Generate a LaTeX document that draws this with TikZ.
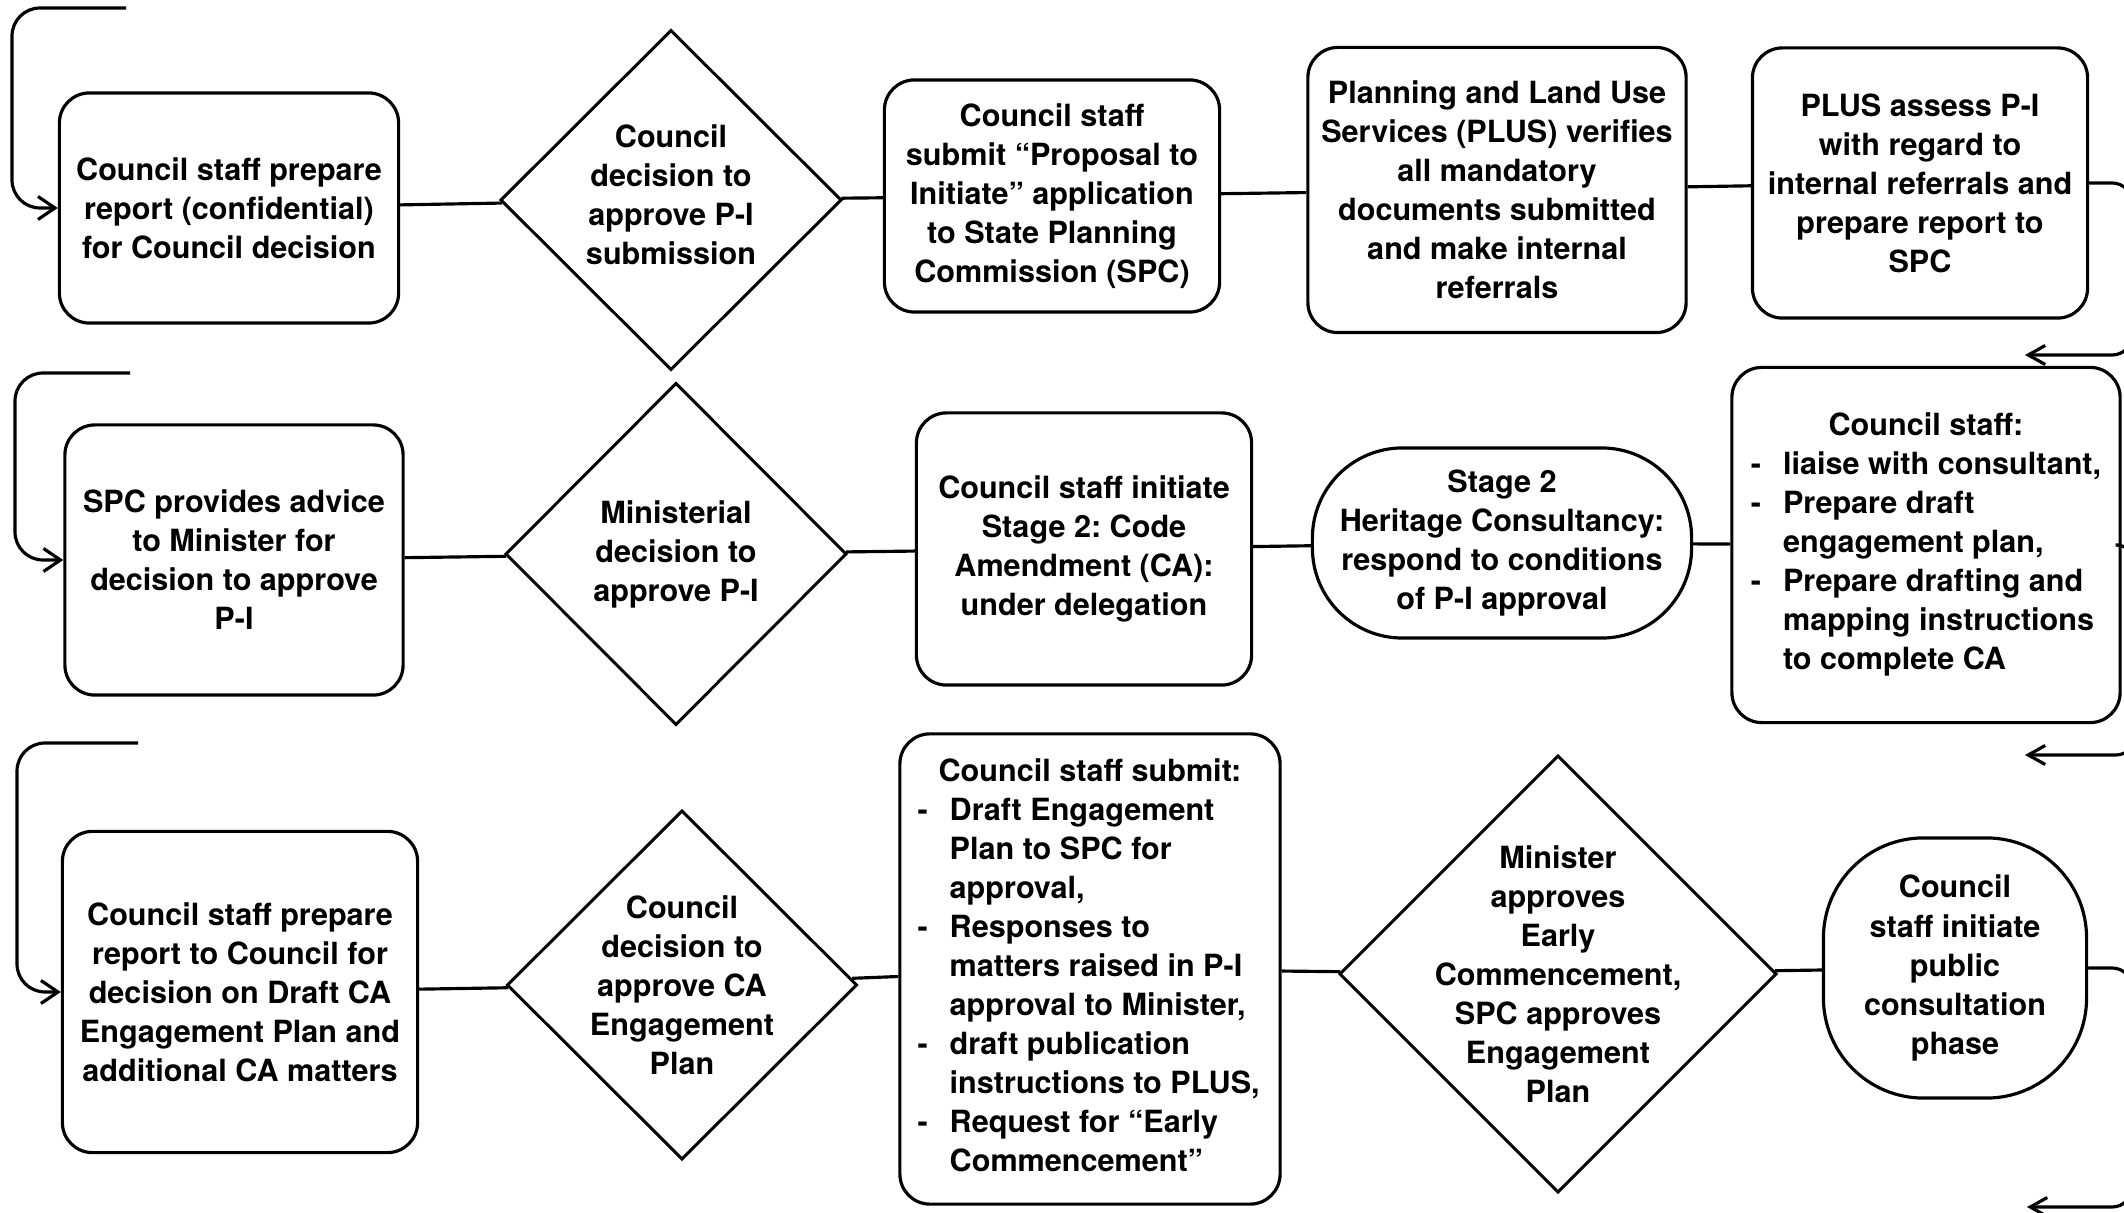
\documentclass[tikz,border=0pt]{standalone}
\usepackage{fontspec}
\setmainfont{TeX Gyre Heros}
\usetikzlibrary{shapes.geometric,arrows.meta}
\frenchspacing

\begin{document}
\begin{tikzpicture}[x=0.01cm,y=-0.01cm,
  every node/.style={font=\bfseries\fontsize{8.7pt}{11.1pt}\selectfont, align=center, inner sep=0pt},
  stepbox/.style={draw, line width=0.9pt, rectangle, rounded corners=0.3cm},
  pill/.style={draw, line width=0.9pt, rectangle, rounded corners=0.9cm},
  roundbox/.style={draw, line width=0.9pt, rectangle, rounded corners=1.0cm},
  decision/.style={draw, line width=0.85pt, diamond, inner sep=0pt},
  link/.style={line width=0.9pt},
  loopin/.style={line width=0.9pt, rounded corners=0.28cm, -{Straight Barb[length=1.7mm,width=2.3mm]}},
  loopout/.style={line width=0.9pt, rounded corners=0.2cm, -{Straight Barb[length=1.7mm,width=1.9mm]}},
]
% page
\fill[white] (0,0) rectangle (2124,1213);
\clip (0,0) rectangle (2124,1213);

% ---------------- row 1 ----------------
\node[stepbox, minimum width=3.39cm, minimum height=2.30cm] (a1) at (229,208)
  {Council staff prepare\\report (confidential)\\for Council decision};
\node[decision, minimum width=3.41cm, minimum height=3.40cm] (d1) at (671,200) {};
\node (d1t) at (671,195) {Council\\decision to\\approve P-I\\submission};
\node[stepbox, minimum width=3.35cm, minimum height=2.32cm] (b1) at (1052,196)
  {Council staff\\submit “Proposal to\\Initiate” application\\to State Planning\\Commission (SPC)};
\node[stepbox, minimum width=3.78cm, minimum height=2.85cm] (c1) at (1497,190)
  {Planning and Land Use\\Services (PLUS) verifies\\all mandatory\\documents submitted\\and make internal\\referrals};
\node[stepbox, minimum width=3.35cm, minimum height=2.70cm] (e1) at (1920,183)
  {PLUS assess P-I\\with regard to\\internal referrals and\\prepare report to\\SPC};

% ---------------- row 2 ----------------
\node[stepbox, minimum width=3.38cm, minimum height=2.70cm] (a2) at (234,560)
  {SPC provides advice\\to Minister for\\decision to approve\\P-I};
\node[decision, minimum width=3.41cm, minimum height=3.42cm] (d2) at (676,554) {};
\node (d2t) at (676,554) {Ministerial\\decision to\\approve P-I};
\node[stepbox, minimum width=3.35cm, minimum height=2.72cm] (b2) at (1084,549)
  {Council staff initiate\\Stage 2: Code\\Amendment (CA):\\under delegation};
\node[pill, minimum width=3.79cm, minimum height=1.90cm] (c2) at (1502,543)
  {Stage 2\\Heritage Consultancy:\\respond to conditions\\of P-I approval};
\node[stepbox, minimum width=3.88cm, minimum height=3.55cm] (e2) at (1926,545)
  {\begin{tabular}{@{}l@{\hspace{0.22cm}}l@{}}
   \multicolumn{2}{c}{Council staff:}\\
   - & liaise with consultant,\\
   - & Prepare draft\\
     & engagement plan,\\
   - & Prepare drafting and\\
     & mapping instructions\\
     & to complete CA
   \end{tabular}};

% ---------------- row 3 ----------------
\node[stepbox, minimum width=3.55cm, minimum height=3.21cm] (a3) at (240,992)
  {Council staff prepare\\report to Council for\\decision on Draft CA\\Engagement Plan and\\additional CA matters};
\node[decision, minimum width=3.50cm, minimum height=3.49cm] (d3) at (682,985) {};
\node (d3t) at (682,985) {Council\\decision to\\approve CA\\Engagement\\Plan};
\node[stepbox, minimum width=3.80cm, minimum height=4.70cm] (b3) at (1090,969)
  {\begin{tabular}{@{}l@{\hspace{0.22cm}}l@{}}
   \multicolumn{2}{c}{Council staff submit:}\\
   - & Draft Engagement\\
     & Plan to SPC for\\
     & approval,\\
   - & Responses to\\
     & matters raised in P-I\\
     & approval to Minister,\\
   - & draft publication\\
     & instructions to PLUS,\\
   - & Request for “Early\\
     & Commencement”
   \end{tabular}};
\node[decision, minimum width=4.37cm, minimum height=4.37cm] (d4) at (1558,974) {};
\node (d4t) at (1558,974) {Minister\\approves\\Early\\Commencement,\\SPC approves\\Engagement\\Plan};
\node[roundbox, minimum width=2.63cm, minimum height=2.60cm] (c3) at (1955,968)
  {Council\\staff initiate\\public\\consultation\\phase};

% ---------------- connectors within rows ----------------
\draw[link] (a1) -- (d1);
\draw[link] (d1) -- (b1);
\draw[link] (b1) -- (c1);
\draw[link] (c1) -- (e1);

\draw[link] (a2) -- (d2);
\draw[link] (d2) -- (b2);
\draw[link] (b2) -- (c2);
\draw[link] (c2) -- (e2);

\draw[link] (a3) -- (d3);
\draw[link] (d3) -- (b3);
\draw[link] (b3) -- (d4);
\draw[link] (d4) -- (c3);

% ---------------- row entries on the left ----------------
\coordinate (s1) at (126,8);
\coordinate (s2) at (130,373);
\coordinate (s3) at (138,743);
\draw[loopin] (s1) -- (12,8) |- (a1.west);
\draw[loopin] (s2) -- (15,373) |- (a2.west);
\draw[loopin] (s3) -- (17,743) |- (a3.west);

% ---------------- row exits on the right ----------------
\coordinate (t1) at (2025,355);
\coordinate (t2) at (2025,755);
\coordinate (t3) at (2027,1207);
\draw[loopout] (e1.east) -- ++(43,0) |- (t1);
\draw[loopout] (e2.east) -- ++(14,0) |- (t2);
\draw[loopout] (c3.east) -- ++(44,0) |- (t3);
\end{tikzpicture}
\end{document}
